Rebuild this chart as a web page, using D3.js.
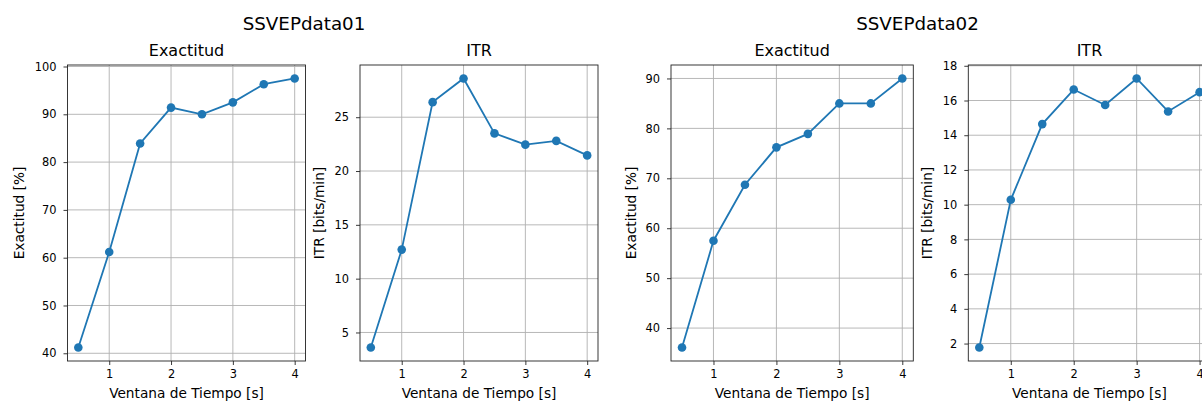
<!DOCTYPE html>
<html>
<head>
<meta charset="utf-8">
<script src="https://cdn.jsdelivr.net/npm/d3@7"></script>
<style>
  html, body { margin: 0; padding: 0; background: #fff; }
  svg { display: block; font-family: "DejaVu Sans", sans-serif; }
</style>
</head>
<body>
<svg id="chart" width="1202" height="404"></svg>
<script>
// ---- Data ----
const ventanas = [0.5, 1, 1.5, 2, 2.5, 3, 3.5, 4];
const exactitud01 = [41.2, 61.2, 83.9, 91.4, 90.0, 92.5, 96.3, 97.5];
const itr01 = [3.6, 12.7, 26.4, 28.6, 23.5, 22.45, 22.8, 21.45];
const exactitud02 = [36.1, 57.5, 68.7, 76.2, 78.9, 85.0, 85.0, 90.0];
const itr02 = [1.77, 10.28, 14.64, 16.63, 15.74, 17.27, 15.37, 16.48];

const xTicks = [1, 2, 3, 4];
const yTicksExac01 = [40, 50, 60, 70, 80, 90, 100];
const yTicksItr01 = [5, 10, 15, 20, 25];
const yTicksExac02 = [40, 50, 60, 70, 80, 90];
const yTicksItr02 = [2, 4, 6, 8, 10, 12, 14, 16, 18];

const supTitles = ["SSVEPdata01", "SSVEPdata02"];
const panelTitles = ["Exactitud", "ITR", "Exactitud", "ITR"];
const yLabels = ["Exactitud [%]", "ITR [bits/min]", "Exactitud [%]", "ITR [bits/min]"];
const xLabel = "Ventana de Tiempo [s]";

// ---- Layout ----
const plotTop = 65, plotBottom = 361;
const panels = [
  { left: 67.5, right: 305.5, values: exactitud01, ticks: yTicksExac01, labelOff: 44 },
  { left: 360, right: 598, values: itr01, ticks: yTicksItr01, labelOff: 36 },
  { left: 671, right: 913.3, values: exactitud02, ticks: yTicksExac02, labelOff: 35 },
  { left: 968.3, right: 1210.6, values: itr02, ticks: yTicksItr02, labelOff: 36 }
];
const supX = [304, 917.5];

const svg = d3.select("#chart");
const color = "#1f77b4";

function padDomain(arr) {
  const lo = d3.min(arr), hi = d3.max(arr), m = (hi - lo) * 0.05;
  return [lo - m, hi + m];
}

supTitles.forEach((t, i) => {
  svg.append("text").attr("x", supX[i]).attr("y", 30)
    .attr("text-anchor", "middle").attr("font-size", 18.3).attr("fill", "#000").text(t);
});

panels.forEach((p, i) => {
  const x = d3.scaleLinear().domain(padDomain(ventanas)).range([p.left, p.right]);
  const y = d3.scaleLinear().domain(padDomain(p.values)).range([plotBottom, plotTop]);
  const g = svg.append("g");

  // grid
  g.selectAll(".vg").data(xTicks).enter().append("line")
    .attr("x1", d => x(d)).attr("x2", d => x(d)).attr("y1", plotTop).attr("y2", plotBottom)
    .attr("stroke", "#b0b0b0").attr("stroke-width", 0.9);
  g.selectAll(".hg").data(p.ticks).enter().append("line")
    .attr("x1", p.left).attr("x2", p.right).attr("y1", d => y(d)).attr("y2", d => y(d))
    .attr("stroke", "#b0b0b0").attr("stroke-width", 0.9);

  // axes via d3
  const xAxis = d3.axisBottom(x).tickValues(xTicks).tickFormat(d3.format("d")).tickSize(4).tickPadding(5);
  const yAxis = d3.axisLeft(y).tickValues(p.ticks).tickFormat(d3.format("d")).tickSize(4).tickPadding(7);
  const gx = g.append("g").attr("transform", `translate(0,${plotBottom})`).call(xAxis);
  const gy = g.append("g").attr("transform", `translate(${p.left},0)`).call(yAxis);
  [gx, gy].forEach(a => {
    a.select(".domain").remove();
    a.selectAll("line").attr("stroke", "#222").attr("stroke-width", 0.9);
    a.selectAll("text").attr("font-size", 11.4).attr("fill", "#000")
      .attr("font-family", "DejaVu Sans, sans-serif");
  });

  // frame
  g.append("rect").attr("x", p.left).attr("y", plotTop)
    .attr("width", p.right - p.left).attr("height", plotBottom - plotTop)
    .attr("fill", "none").attr("stroke", "#222").attr("stroke-width", 0.9);

  // line + markers
  const pts = ventanas.map((v, k) => [v, p.values[k]]);
  g.append("path").datum(pts)
    .attr("d", d3.line().x(d => x(d[0])).y(d => y(d[1])))
    .attr("fill", "none").attr("stroke", color).attr("stroke-width", 1.8);
  g.selectAll(".pt").data(pts).enter().append("circle")
    .attr("cx", d => x(d[0])).attr("cy", d => y(d[1])).attr("r", 4.3).attr("fill", color);

  // titles / labels
  g.append("text").attr("x", (p.left + p.right) / 2).attr("y", 56)
    .attr("text-anchor", "middle").attr("font-size", 16).attr("fill", "#000").text(panelTitles[i]);
  g.append("text").attr("x", (p.left + p.right) / 2).attr("y", 398)
    .attr("text-anchor", "middle").attr("font-size", 13.7).attr("fill", "#000").text(xLabel);
  g.append("text")
    .attr("transform", `translate(${p.left - p.labelOff},${(plotTop + plotBottom) / 2}) rotate(-90)`)
    .attr("text-anchor", "middle").attr("font-size", 13.7).attr("fill", "#000").text(yLabels[i]);
});
</script>
</body>
</html>
